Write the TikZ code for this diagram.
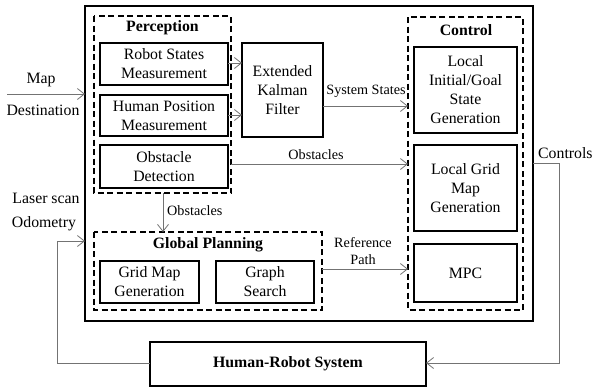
\documentclass[tikz,border=0pt]{standalone}
\usepackage{fontspec}
\setmainfont{Liberation Serif}
\usetikzlibrary{arrows.meta}
\begin{document}
\begin{tikzpicture}[x=1pt,y=-1pt,
  every node/.style={font=\fontsize{15.8}{19}\selectfont, inner sep=0pt},
  titlef/.style={font=\fontsize{15.8}{19}\selectfont\bfseries},
  outerbox/.style={draw, line width=1.8pt},
  dbox/.style={draw, line width=1.6pt, dash pattern=on 6pt off 3.5pt},
  ibox/.style={draw, line width=1.4pt},
  con/.style={draw=gray!90!black, line width=0.8pt, -{Straight Barb[length=7pt,width=11pt,line width=0.8pt]}},
  lbl/.style={font=\fontsize{14.2}{17}\selectfont},
  txt/.style={align=center}]
\useasboundingbox (0,0) rectangle (592,389);
% outer box
\draw[outerbox] (85,6) rectangle (533,321);
\coordinate (outerL) at (85,94);
% Perception
\draw[dbox] (94,16) rectangle (231,193);
\node[titlef] (ptitle) at (162.5,28) {Perception};
\draw[ibox] (100,43) rectangle (228,85);
\node[txt] (rsm) at (164,64) {Robot States\\Measurement};
\draw[ibox] (100,95) rectangle (228,136);
\node[txt] (hpm) at (164,115.5) {Human Position\\Measurement};
\draw[ibox] (100,145) rectangle (228,188);
\node[txt] (od) at (164,166.5) {Obstacle\\Detection};
% EKF
\draw[ibox] (242,43) rectangle (323,137);
\node[txt] (ekf) at (282.5,90) {Extended\\Kalman\\Filter};
% Control
\draw[dbox] (408,17) rectangle (523,310);
\node[titlef] (ctitle) at (466,30) {Control};
\draw[ibox] (414,47) rectangle (517,133);
\node[txt] (lig) at (465.5,90) {Local\\Initial/Goal\\State\\Generation};
\draw[ibox] (414,145) rectangle (517,231);
\node[txt] (lgm) at (465.5,188) {Local Grid\\Map\\Generation};
\draw[ibox] (414,244) rectangle (517,302);
\node (mpc) at (465.5,273) {MPC};
% Global planning
\draw[dbox] (94,232) rectangle (322,310);
\node[titlef] (gtitle) at (208,245) {Global Planning};
\draw[ibox] (100,261) rectangle (199,303);
\node[txt] (gmg) at (149.5,282) {Grid Map\\Generation};
\draw[ibox] (216,261) rectangle (314,303);
\node[txt] (gs) at (265,282) {Graph\\Search};
% Human-Robot System
\draw[ibox] (150,342) rectangle (426,386);
\node[titlef] (hrs) at (288,364) {Human-Robot System};
% coordinates for connectors
\coordinate (mapstart) at (7,94);
\coordinate (rsR) at (228,63);
\coordinate (ekfA) at (242,63);
\coordinate (hpR) at (228,115);
\coordinate (ekfB) at (242,115);
\coordinate (ekfR) at (323,106);
\coordinate (ctlA) at (408,106);
\coordinate (percR) at (231,164);
\coordinate (ctlB) at (408,164);
\coordinate (percB) at (163,193);
\coordinate (gpT) at (163,232);
\coordinate (gpR) at (322,269);
\coordinate (ctlC) at (408,269);
\coordinate (outR) at (533,163);
\coordinate (hrsR) at (426,363);
\coordinate (hrsL) at (150,363);
\coordinate (outL2) at (85,241);
% connectors
\draw[con] (mapstart) -- (outerL);
\node (map) at (41,80) {Map};
\node (dest) at (43,110) {Destination};
\draw[con] (rsR) -- (ekfA);
\draw[con] (hpR) -- (ekfB);
\draw[con] (ekfR) -- (ctlA);
\node[lbl] (ssl) at (366,91) {System States};
\draw[con] (percR) -- (ctlB);
\node[lbl] (obs1) at (316,155) {Obstacles};
\draw[con] (percB) -- (gpT);
\node[lbl,anchor=west] (obs2) at (167,211) {Obstacles};
\draw[con] (gpR) -- (ctlC);
\node[lbl,align=center] (refp) at (363,251) {Reference\\Path};
\draw[con] (outR) -- (559,163) -- (559,363) -- (hrsR);
\node[anchor=west] (ctrl) at (538,153) {Controls};
\draw[con] (hrsL) -- (57,363) -- (57,241) -- (outL2);
\node (laser) at (46,198) {Laser scan};
\node (odo) at (44,224) {Odometry};
\end{tikzpicture}
\end{document}
